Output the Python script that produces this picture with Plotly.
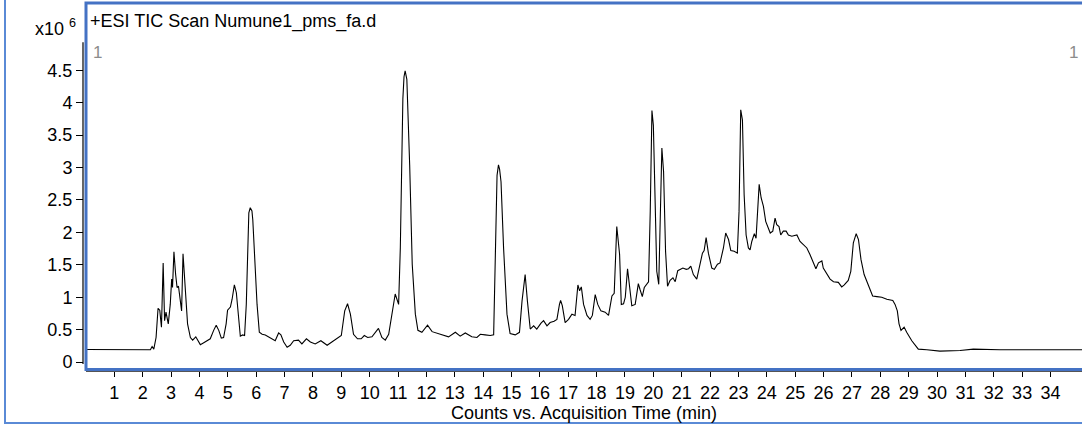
import plotly.graph_objects as go

# Total ion chromatogram: retention time (min) and intensity (x10^6 counts)
time_min = [
    0.00, 1.21, 2.27, 2.33, 2.39, 2.47, 2.54, 2.60, 2.66, 2.72, 2.77, 2.82, 2.90, 2.97, 3.02,
    3.05, 3.10, 3.16, 3.21, 3.26, 3.33, 3.37, 3.42, 3.50, 3.58, 3.68, 3.76, 3.87, 3.94, 4.03,
    4.15, 4.27, 4.38, 4.50, 4.59, 4.68, 4.77, 4.85, 4.94, 4.99, 5.09, 5.15, 5.23, 5.30, 5.36,
    5.44, 5.52, 5.59, 5.65, 5.70, 5.74, 5.79, 5.85, 5.88, 5.93, 6.03, 6.11, 6.21, 6.32, 6.44,
    6.56, 6.67, 6.79, 6.87, 6.97, 7.09, 7.20, 7.32, 7.49, 7.61, 7.77, 7.91, 8.08, 8.28, 8.50,
    8.73, 9.00, 9.12, 9.22, 9.32, 9.43, 9.57, 9.70, 9.81, 9.93, 10.08, 10.20, 10.31, 10.43, 10.55,
    10.67, 10.79, 10.90, 11.02, 11.08, 11.17, 11.21, 11.25, 11.31, 11.41, 11.50, 11.61, 11.70, 11.84, 12.04,
    12.20, 12.37, 12.60, 12.78, 13.02, 13.19, 13.37, 13.60, 13.78, 13.90, 14.07, 14.25, 14.37, 14.43, 14.49,
    14.54, 14.58, 14.63, 14.72, 14.84, 14.95, 15.13, 15.28, 15.37, 15.48, 15.56, 15.66, 15.78, 15.89, 16.04,
    16.13, 16.25, 16.36, 16.50, 16.60, 16.69, 16.73, 16.79, 16.89, 17.01, 17.13, 17.24, 17.34, 17.40, 17.46,
    17.54, 17.66, 17.77, 17.85, 17.95, 18.04, 18.15, 18.30, 18.42, 18.54, 18.62, 18.71, 18.81, 18.87, 18.95,
    19.01, 19.09, 19.16, 19.24, 19.36, 19.47, 19.53, 19.61, 19.68, 19.77, 19.83, 19.89, 19.95, 20.00, 20.06,
    20.12, 20.19, 20.24, 20.30, 20.36, 20.43, 20.50, 20.59, 20.69, 20.77, 20.86, 20.95, 21.04, 21.16, 21.24,
    21.32, 21.41, 21.53, 21.65, 21.73, 21.79, 21.86, 21.94, 22.06, 22.15, 22.26, 22.35, 22.47, 22.55, 22.65,
    22.73, 22.85, 22.96, 23.02, 23.08, 23.14, 23.20, 23.27, 23.35, 23.41, 23.47, 23.56, 23.62, 23.68, 23.73,
    23.80, 23.88, 23.96, 24.06, 24.12, 24.21, 24.29, 24.35, 24.43, 24.49, 24.58, 24.68, 24.76, 24.88, 25.06,
    25.17, 25.31, 25.41, 25.52, 25.64, 25.73, 25.82, 25.94, 25.99, 26.09, 26.23, 26.35, 26.52, 26.64, 26.73,
    26.87, 26.96, 27.05, 27.15, 27.23, 27.32, 27.43, 27.52, 27.64, 27.73, 27.88, 28.05, 28.23, 28.44, 28.52,
    28.60, 28.66, 28.73, 28.84, 28.93, 29.11, 29.22, 29.34, 29.64, 30.10, 30.81, 31.28, 32.22, 33.63, 35.11,
]

tic_e6 = [
    0.195, 0.19, 0.19, 0.24, 0.20, 0.38, 0.83, 0.80, 0.54, 1.53, 0.64, 0.77, 0.59, 0.89, 1.28,
    1.15, 1.70, 1.35, 1.15, 1.17, 0.94, 0.79, 1.67, 1.15, 0.59, 0.38, 0.34, 0.39, 0.33, 0.27,
    0.30, 0.33, 0.36, 0.49, 0.57, 0.49, 0.37, 0.38, 0.59, 0.80, 0.85, 0.97, 1.19, 1.07, 0.79,
    0.40, 0.42, 0.41, 0.89, 1.91, 2.30, 2.38, 2.33, 2.19, 1.76, 0.89, 0.46, 0.43, 0.42, 0.39,
    0.36, 0.33, 0.45, 0.42, 0.31, 0.23, 0.26, 0.33, 0.34, 0.28, 0.36, 0.31, 0.28, 0.33, 0.26,
    0.33, 0.41, 0.79, 0.90, 0.74, 0.43, 0.36, 0.36, 0.41, 0.38, 0.39, 0.46, 0.52, 0.38, 0.34,
    0.43, 0.74, 1.05, 0.89, 1.76, 4.06, 4.40, 4.49, 4.36, 3.04, 1.51, 0.74, 0.49, 0.46, 0.57,
    0.47, 0.45, 0.42, 0.39, 0.46, 0.40, 0.45, 0.39, 0.38, 0.43, 0.42, 0.41, 0.42, 1.76, 2.88,
    3.04, 2.97, 2.78, 1.76, 0.74, 0.44, 0.42, 0.46, 0.94, 1.35, 0.94, 0.51, 0.56, 0.51, 0.60,
    0.64, 0.56, 0.61, 0.63, 0.66, 0.89, 0.95, 0.87, 0.61, 0.66, 0.74, 0.72, 1.19, 1.10, 1.16,
    0.89, 0.72, 0.66, 0.72, 1.04, 0.89, 0.79, 0.77, 0.72, 1.02, 1.06, 2.09, 1.66, 0.89, 0.90,
    1.00, 1.44, 1.20, 0.87, 0.89, 1.21, 1.12, 1.01, 1.15, 1.20, 1.24, 2.32, 3.88, 3.65, 2.32,
    1.40, 1.20, 2.07, 3.30, 2.94, 1.71, 1.17, 1.26, 1.30, 1.24, 1.41, 1.43, 1.45, 1.43, 1.44,
    1.48, 1.35, 1.28, 1.51, 1.68, 1.72, 1.92, 1.68, 1.45, 1.43, 1.51, 1.53, 1.76, 1.99, 1.89,
    1.72, 1.71, 1.68, 2.32, 3.89, 3.73, 2.58, 1.96, 1.76, 1.73, 1.86, 1.98, 1.91, 2.32, 2.74,
    2.53, 2.40, 2.17, 2.07, 1.99, 2.02, 2.22, 2.12, 2.09, 1.96, 2.02, 2.02, 1.96, 1.94, 1.96,
    1.86, 1.81, 1.76, 1.66, 1.53, 1.44, 1.53, 1.56, 1.45, 1.38, 1.28, 1.24, 1.23, 1.16, 1.19,
    1.26, 1.40, 1.84, 1.98, 1.89, 1.58, 1.35, 1.25, 1.10, 1.02, 1.01, 1.00, 0.97, 0.95, 0.89,
    0.79, 0.59, 0.49, 0.54, 0.46, 0.33, 0.26, 0.20, 0.19, 0.17, 0.18, 0.20, 0.19, 0.19, 0.19,
]

x_ticks = list(range(1, 35))
y_ticks = [0, 0.5, 1, 1.5, 2, 2.5, 3, 3.5, 4, 4.5]
y_tick_text = ["0", "0.5", "1", "1.5", "2", "2.5", "3", "3.5", "4", "4.5"]

W, H = 1082, 428
FONT = "Liberation Sans, Arial, sans-serif"
FRAME_BLUE = "#4472C4"


def px(x):
    return x / W


def py(y):
    return 1 - y / H


fig = go.Figure()
fig.add_trace(go.Scatter(
    x=time_min, y=tic_e6, mode="lines",
    line=dict(color="black", width=1.1),
    hoverinfo="skip", showlegend=False,
))

fig.update_layout(
    width=W, height=H, autosize=False,
    margin=dict(l=0, r=0, t=0, b=0),
    paper_bgcolor="white", plot_bgcolor="white",
    font=dict(family=FONT, size=18, color="black"),
    xaxis=dict(
        domain=[px(86), 1.0], range=[0, 35.11],
        anchor="free", position=py(374),
        tickmode="array", tickvals=x_ticks,
        ticks="outside", ticklen=5, tickcolor="black", tickwidth=1,
        showline=True, linecolor="#555555", linewidth=1,
        showgrid=False, zeroline=False,
        tickfont=dict(size=18),
        title=dict(text="Counts vs. Acquisition Time (min)", font=dict(size=18), standoff=2),
    ),
    yaxis=dict(
        domain=[py(372), py(4)], range=[-0.1117, 5.521],
        anchor="free", position=px(83),
        tickmode="array", tickvals=y_ticks, ticktext=y_tick_text,
        ticks="outside", ticklen=7, tickcolor="black", tickwidth=1,
        showline=False, showgrid=False, zeroline=False,
        tickfont=dict(size=18),
    ),
    shapes=[
        # outer panel border
        dict(type="rect", xref="paper", yref="paper",
             x0=px(5), x1=px(1095), y0=py(426), y1=py(-10),
             line=dict(color="#5A8AD6", width=2)),
        # y-axis spine
        dict(type="line", xref="paper", yref="y",
             x0=px(83), x1=px(83), y0=-0.03, y1=4.93,
             line=dict(color="black", width=1.2)),
        # plot panel border
        dict(type="rect", xref="paper", yref="paper",
             x0=px(86), x1=px(1095), y0=py(372), y1=py(3),
             line=dict(color=FRAME_BLUE, width=3)),
    ],
    annotations=[
        dict(text="+ESI TIC Scan Numune1_pms_fa.d", xref="paper", yref="paper",
             x=px(88), y=py(22), xanchor="left", yanchor="middle",
             showarrow=False, font=dict(size=18, color="black")),
        dict(text="x10 <sup>6</sup>", xref="paper", yref="paper",
             x=px(78), y=py(28), xanchor="right", yanchor="middle",
             showarrow=False, font=dict(size=18, color="black")),
        dict(text="1", xref="paper", yref="paper",
             x=px(91), y=py(53), xanchor="left", yanchor="middle",
             showarrow=False, font=dict(size=17, color="#8c8c8c")),
        dict(text="1", xref="paper", yref="paper",
             x=px(1080), y=py(53), xanchor="right", yanchor="middle",
             showarrow=False, font=dict(size=17, color="#8c8c8c")),
    ],
)

fig.write_html("out.html")
